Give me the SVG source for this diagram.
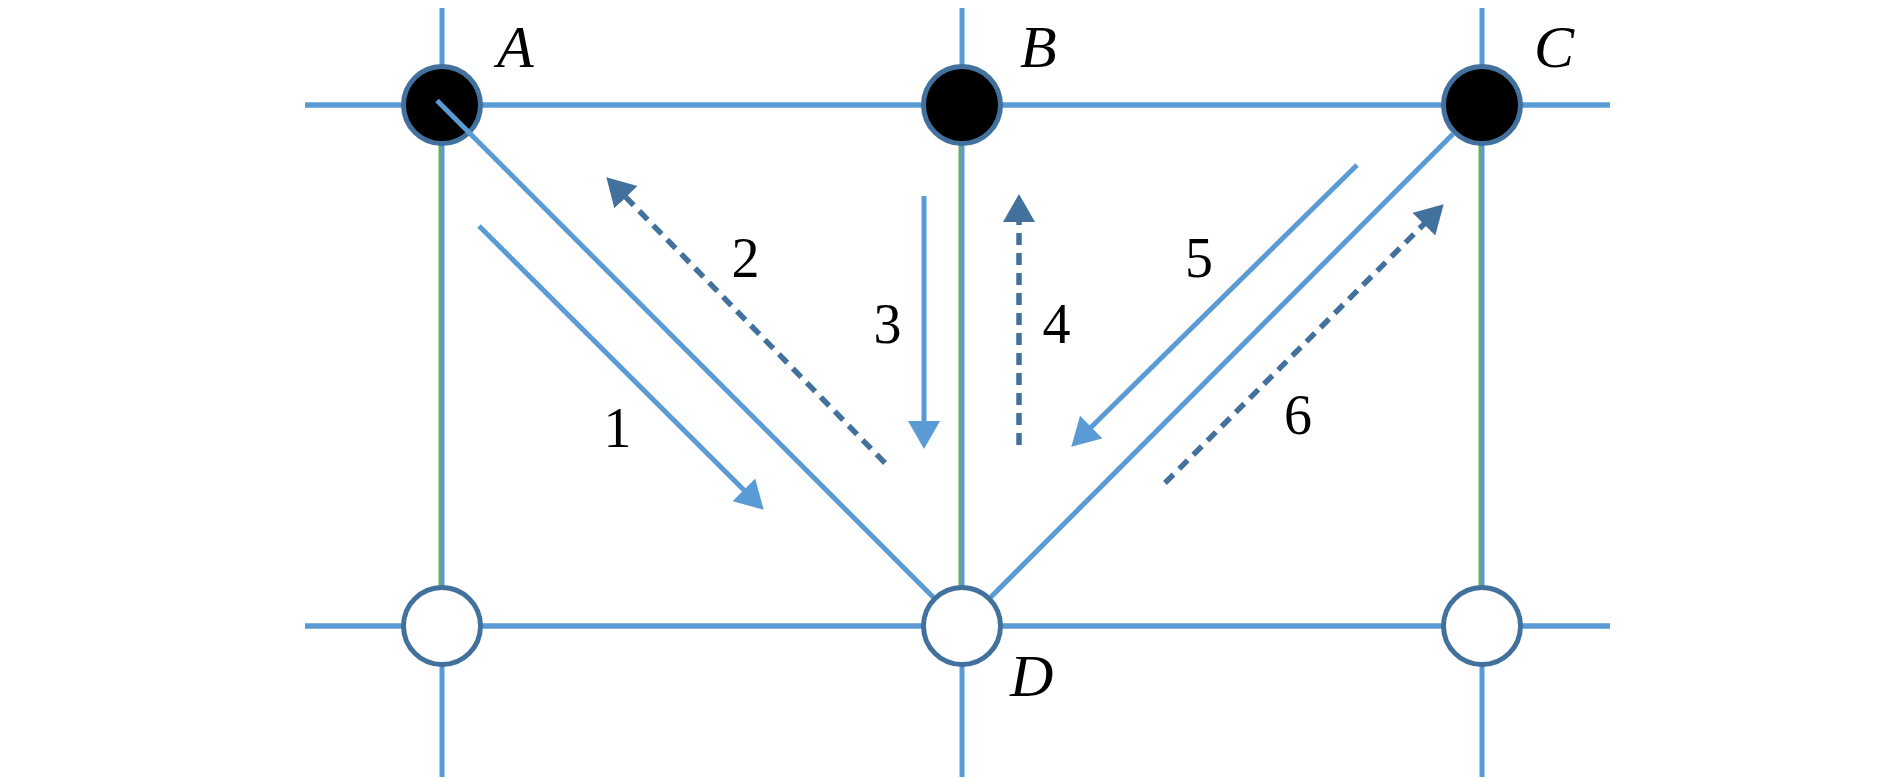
<svg xmlns="http://www.w3.org/2000/svg" width="1890" height="780" viewBox="0 0 1890 780">
  <style>
    .h { stroke: #5B9BD5; stroke-width: 5.5; fill: none; }
    .v { stroke: #5B9BD5; stroke-width: 5; fill: none; }
    .g { stroke: #70AD47; stroke-width: 2; fill: none; }
    .diag { stroke: #5B9BD5; stroke-width: 5; fill: none; }
    .solid { stroke: #5B9BD5; stroke-width: 5; fill: none; marker-end: url(#headLight); }
    .dash { stroke: #41719C; stroke-width: 5.5; fill: none; stroke-dasharray: 12 8; marker-end: url(#headDark); }
    .full { fill: #000000; stroke: #41719C; stroke-width: 5; }
    .empty { fill: #FFFFFF; stroke: #41719C; stroke-width: 5; }
    .lbl { font-family: "Liberation Serif", "DejaVu Serif", serif; font-style: italic; font-size: 60px; fill: #000; }
    .num { font-family: "Liberation Serif", "DejaVu Serif", serif; font-size: 56px; fill: #000; text-anchor: middle; }
  </style>
  <defs>
    <marker id="headLight" markerUnits="userSpaceOnUse" markerWidth="30" markerHeight="34" refX="12" refY="16" orient="auto">
      <path d="M0,0 L28,16 L0,32 Z" fill="#5B9BD5"/>
    </marker>
    <marker id="headDark" markerUnits="userSpaceOnUse" markerWidth="30" markerHeight="34" refX="12" refY="16" orient="auto">
      <path d="M0,0 L28,16 L0,32 Z" fill="#41719C"/>
    </marker>
  </defs>
  <rect x="0" y="0" width="1890" height="780" fill="#FFFFFF"/>

  <g id="grid">
    <line class="h" x1="305" y1="105" x2="1610" y2="105"/>
    <line class="h" x1="305" y1="626" x2="1610" y2="626"/>
    <line class="v" x1="442" y1="8" x2="442" y2="777"/>
    <line class="v" x1="962" y1="8" x2="962" y2="777"/>
    <line class="v" x1="1482" y1="8" x2="1482" y2="777"/>
    <line class="g" x1="439.5" y1="145" x2="439.5" y2="586"/>
    <line class="g" x1="959.5" y1="145" x2="959.5" y2="586"/>
    <line class="g" x1="1479.5" y1="145" x2="1479.5" y2="586"/>
  </g>

  <g id="node-A">
    <circle class="full" cx="442" cy="105" r="38.5"/>
    <text class="lbl" x="497" y="67">A</text>
  </g>
  <g id="node-B">
    <circle class="full" cx="962" cy="105" r="38.5"/>
    <text class="lbl" x="1020" y="67">B</text>
  </g>
  <g id="node-C">
    <circle class="full" cx="1482" cy="105" r="38.5"/>
    <text class="lbl" x="1534" y="67">C</text>
  </g>

  <g id="connectors">
    <line class="diag" x1="437" y1="100.5" x2="962" y2="626"/>
    <line class="diag" x1="1453" y1="134" x2="962" y2="626"/>
    <line class="solid" x1="479" y1="226" x2="752.4" y2="498.4"/>
    <line class="dash" x1="885" y1="463" x2="617.5" y2="188.7"/>
    <line class="solid" x1="924" y1="196" x2="924" y2="433"/>
    <line class="dash" x1="1019" y1="445" x2="1019" y2="210"/>
    <line class="solid" x1="1357" y1="165" x2="1082.7" y2="435.5"/>
    <line class="dash" x1="1165" y1="483" x2="1432.4" y2="215.6"/>
    <text class="num" x="617.5" y="447">1</text>
    <text class="num" x="745.5" y="277">2</text>
    <text class="num" x="887.5" y="343">3</text>
    <text class="num" x="1056.5" y="343">4</text>
    <text class="num" x="1199" y="277">5</text>
    <text class="num" x="1298" y="434">6</text>
  </g>

  <g id="node-E">
    <circle class="empty" cx="442" cy="626" r="38.5"/>
  </g>
  <g id="node-D">
    <circle class="empty" cx="962" cy="626" r="38.5"/>
    <text class="lbl" x="1010" y="696">D</text>
  </g>
  <g id="node-F">
    <circle class="empty" cx="1482" cy="626" r="38.5"/>
  </g>
</svg>
